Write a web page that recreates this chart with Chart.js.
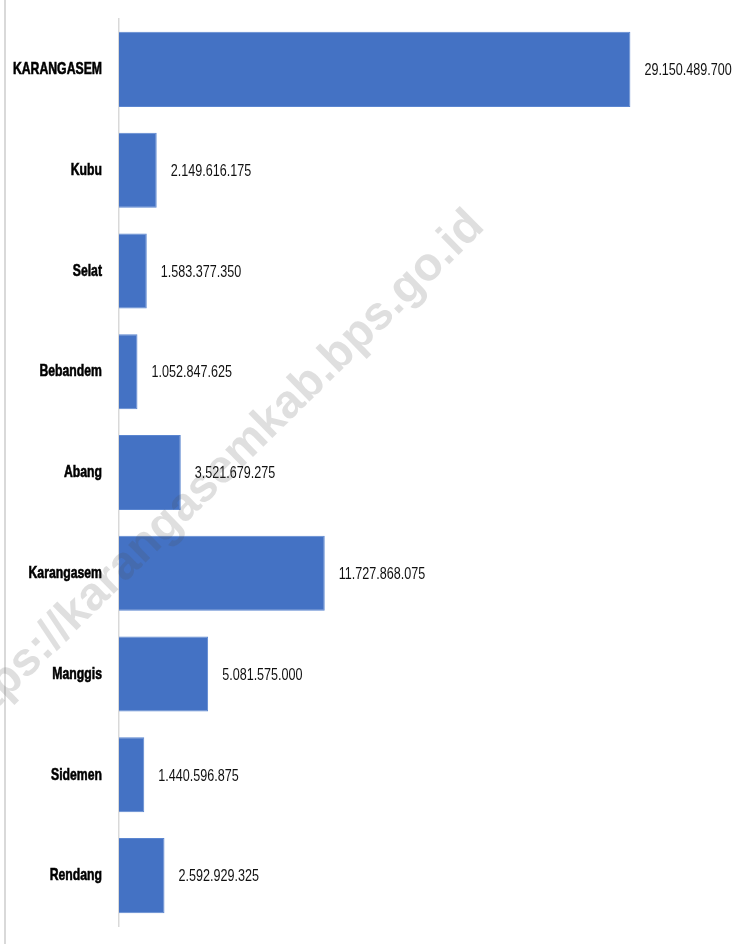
<!DOCTYPE html>
<html>
<head>
<meta charset="utf-8">
<script src="https://cdn.jsdelivr.net/npm/chart.js@4"></script>
<style>
html,body{margin:0;padding:0;background:#fff;}
#wrap{width:748px;height:944px;position:relative;}
</style>
</head>
<body>
<div id="wrap"><canvas id="c" width="748" height="944"></canvas></div>
<script>
const categories = ["KARANGASEM","Kubu","Selat","Bebandem","Abang","Karangasem","Manggis","Sidemen","Rendang"];
const values = [29150489700, 2149616175, 1583377350, 1052847625, 3521679275, 11727868075, 5081575000, 1440596875, 2592929325];
const watermarkText = "https://karangasemkab.bps.go.id";

const FONT = '"Liberation Sans", Arial, sans-serif';
const LABEL_RIGHT = 102;
const LABEL_SQUEEZE = 0.72;
const VALUE_SQUEEZE = 0.74;

function fmt(n){
  const s = String(Math.round(n));
  return s.replace(/\B(?=(\d{3})+(?!\d))/g, '.');
}

const valueLabels = {
  id:'valueLabels',
  afterDatasetsDraw(chart){
    const ctx = chart.ctx;
    const meta = chart.getDatasetMeta(0);
    ctx.font = '17px ' + FONT;
    ctx.fillStyle = '#111';
    ctx.textAlign = 'left';
    ctx.textBaseline = 'middle';
    meta.data.forEach((bar,i)=>{
      const x0 = bar.x + 14;
      ctx.save();
      ctx.translate(x0, bar.y);
      ctx.scale(VALUE_SQUEEZE, 1);
      ctx.fillText(fmt(values[i]), 0, 1);
      ctx.restore();
    });
  }
};

const decor = {
  id:'decor',
  beforeDraw(chart){
    const ctx = chart.ctx;
    ctx.save();
    ctx.fillStyle = '#fff';
    ctx.fillRect(0,0,chart.width,chart.height);
    ctx.fillStyle = '#d9d9d9';
    ctx.fillRect(4,0,2,chart.height);
    ctx.restore();
    const ys = chart.scales.y;
    if (!ys._squeezed) {
      const orig = ys.drawLabels.bind(ys);
      ys._computeLabelArea = function(){ return undefined; };
      ys.drawLabels = function(area){
        const c = chart.ctx;
        c.save();
        c.translate(LABEL_RIGHT, 0);
        c.scale(LABEL_SQUEEZE, 1);
        c.translate(-LABEL_RIGHT, 0);
        orig(area);
        c.restore();
      };
      ys._squeezed = true;
    }
  },
  afterDraw(chart){
    const ctx = chart.ctx;
    ctx.save();
    ctx.translate(486,228);
    ctx.rotate(-44.5*Math.PI/180);
    ctx.font = 'bold 47px "Liberation Sans", Arial, sans-serif';
    ctx.fillStyle = 'rgba(80,80,80,0.18)';
    ctx.textAlign = 'right';
    ctx.textBaseline = 'alphabetic';
    ctx.fillText(watermarkText, 0, 0);
    ctx.restore();
  }
};

new Chart(document.getElementById('c'), {
  type:'bar',
  data:{
    labels:categories,
    datasets:[{
      data:values,
      backgroundColor:'#4472C4',
      borderColor:'#5b86d0',
      borderWidth:1,
      categoryPercentage:1,
      barPercentage:0.745
    }]
  },
  options:{
    indexAxis:'y',
    responsive:false,
    animation:false,
    devicePixelRatio:1,
    layout:{padding:{top:19,bottom:18,right:15,left:0}},
    plugins:{legend:{display:false},tooltip:{enabled:false}},
    scales:{
      x:{display:false,min:0,max:35000000000},
      y:{
        afterFit(scale){ scale.width = 119; scale.paddingTop = 0; scale.paddingBottom = 0; },
        grid:{display:true,drawOnChartArea:false,drawTicks:false},
        border:{display:true,color:'#d9d9d9',width:1.5},
        ticks:{
          padding:17,
          color:'#000',
          textStrokeColor:'#000',
          textStrokeWidth:0.6,
          font:{family:FONT,size:17,weight:'bold'}
        }
      }
    }
  },
  plugins:[decor,valueLabels]
});
</script>
</body>
</html>
